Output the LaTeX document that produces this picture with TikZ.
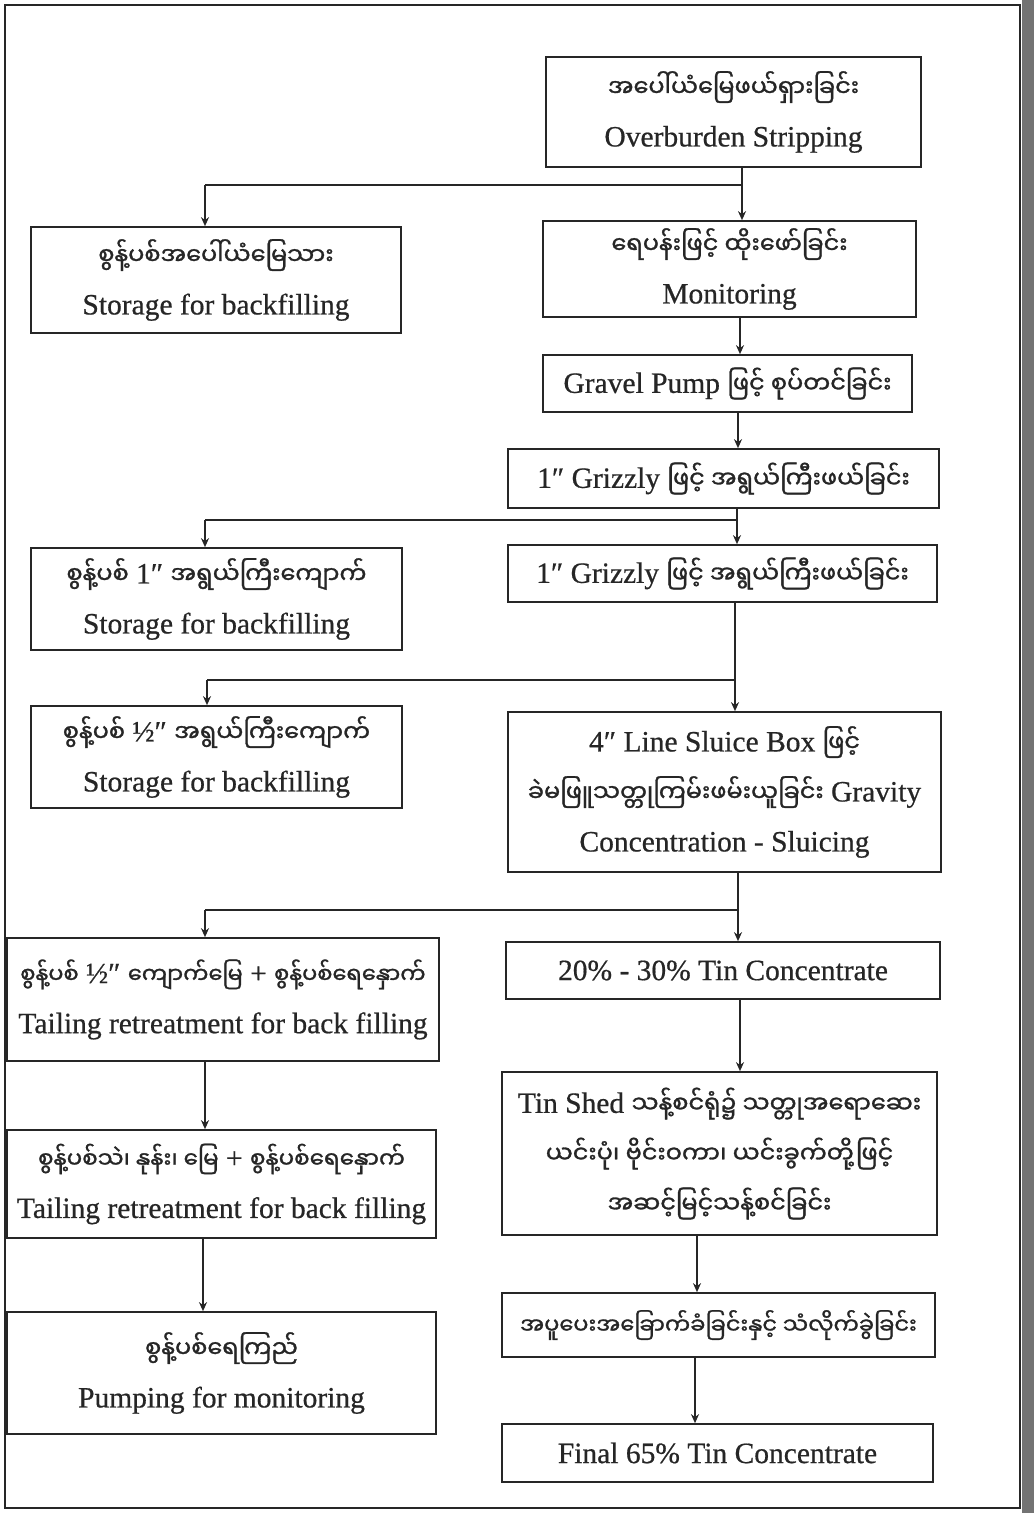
\documentclass[tikz,border=0pt]{standalone}
\usepackage{fontspec}
\setmainfont{Liberation Serif}[FakeBold=0.6]
\newfontfamily\myafont[Script=Myanmar,FakeBold=1.2]{Noto Sans Myanmar UI}
\usetikzlibrary{arrows.meta}
\newcommand\bur[1]{{\myafont\fontsize{24}{50}\selectfont #1}}
\newcommand\burs[2]{{\myafont\fontsize{#1}{50}\selectfont #2}}
\tikzset{
  box/.style={draw=black!85, line width=1.7pt, align=center, inner sep=0pt,
    font=\fontsize{29.5}{50}\selectfont, text=black!85},
  arr/.style={draw=black!85, line width=1.5pt, -{Stealth[length=9pt,width=8pt]}},
  ln/.style={draw=black!85, line width=1.5pt}
}
\begin{document}
\begin{tikzpicture}[x=1pt,y=-1pt]
\useasboundingbox (0,0) rectangle (1034,1513);
\fill[white] (0,0) rectangle (1034,1513);
\fill[black!55] (1022,0) rectangle (1034,1513);
\draw[black!85, line width=2pt] (5,5) rectangle (1020,1508);

\node[box, minimum width=375pt, minimum height=110pt] (ob) at (733.5,112)
  {\bur{အပေါ်ယံမြေဖယ်ရှားခြင်း}\\Overburden Stripping};
\node[box, minimum width=370pt, minimum height=106pt] (st1) at (216,280)
  {\bur{စွန့်ပစ်အပေါ်ယံမြေသား}\\Storage for backfilling};
\node[box, minimum width=373pt, minimum height=96pt] (mon) at (729.5,269)
  {\bur{ရေပန်းဖြင့် ထိုးဖော်ခြင်း}\\Monitoring};
\node[box, minimum width=369pt, minimum height=57pt] (gp) at (727.5,383.5)
  {Gravel Pump \bur{ဖြင့် စုပ်တင်ခြင်း}};
\node[box, minimum width=431pt, minimum height=59pt] (gz1) at (723.5,478.5)
  {1″ Grizzly \bur{ဖြင့် အရွယ်ကြီးဖယ်ခြင်း}};
\node[box, minimum width=371pt, minimum height=102pt] (st2) at (216.5,599)
  {\bur{စွန့်ပစ်} 1″ \bur{အရွယ်ကြီးကျောက်}\\Storage for backfilling};
\node[box, minimum width=429pt, minimum height=57pt] (gz2) at (722.5,573.5)
  {1″ Grizzly \bur{ဖြင့် အရွယ်ကြီးဖယ်ခြင်း}};
\node[box, minimum width=371pt, minimum height=102pt] (st3) at (216.5,757)
  {\bur{စွန့်ပစ်} ½″ \bur{အရွယ်ကြီးကျောက်}\\Storage for backfilling};
\node[box, minimum width=433pt, minimum height=160pt] (sl) at (724.5,792)
  {4″ Line Sluice Box \bur{ဖြင့်}\\\bur{ခဲမဖြူသတ္တုကြမ်းဖမ်းယူခြင်း} Gravity\\Concentration - Sluicing};
\node[box, minimum width=432pt, minimum height=123pt] (t1) at (223,999.5)
  {\burs{22.5}{စွန့်ပစ်} ½″ \burs{22.5}{ကျောက်မြေ} + \burs{22.5}{စွန့်ပစ်ရေနှောက်}\\Tailing retreatment for back filling};
\node[box, minimum width=434pt, minimum height=57pt] (c1) at (723,970.5)
  {20\% - 30\% Tin Concentrate};
\node[box, minimum width=429pt, minimum height=108pt] (t2) at (221.5,1184)
  {\burs{23}{စွန့်ပစ်သဲ၊ နုန်း၊ မြေ} + \burs{23}{စွန့်ပစ်ရေနှောက်}\\Tailing retreatment for back filling};
\node[box, minimum width=435pt, minimum height=163pt] (ts) at (719.5,1153.5)
  {Tin Shed \bur{သန့်စင်ရုံ၌ သတ္တုအရောဆေး}\\\bur{ယင်းပုံ၊ ဗိုင်းဝကာ၊ ယင်းခွက်တို့ဖြင့်}\\\bur{အဆင့်မြင့်သန့်စင်ခြင်း}};
\node[box, minimum width=429pt, minimum height=122pt] (pm) at (221.5,1373)
  {\bur{စွန့်ပစ်ရေကြည်}\\Pumping for monitoring};
\node[box, minimum width=433pt, minimum height=64pt] (ht) at (718.5,1325)
  {\burs{22.5}{အပူပေးအခြောက်ခံခြင်းနှင့် သံလိုက်ခွဲခြင်း}};
\node[box, minimum width=431pt, minimum height=58pt] (fn) at (717.5,1453)
  {Final 65\% Tin Concentrate};

% split 1
\coordinate (j1) at (742,185);
\coordinate (l1) at (205,185);
\draw[ln] (j1 |- ob.south) -- (j1) -- (l1);
\draw[arr] (l1) -- (l1 |- st1.north);
\draw[arr] (j1) -- (j1 |- mon.north);
% chain
\coordinate (k1) at (740,0);
\draw[arr] (k1 |- mon.south) -- (k1 |- gp.north);
\coordinate (k2) at (738,0);
\draw[arr] (k2 |- gp.south) -- (k2 |- gz1.north);
% split 2
\coordinate (j2) at (737,520);
\coordinate (l2) at (205,520);
\draw[ln] (j2 |- gz1.south) -- (j2) -- (l2);
\draw[arr] (l2) -- (l2 |- st2.north);
\draw[arr] (j2) -- (j2 |- gz2.north);
% split 3
\coordinate (j3) at (735,680);
\coordinate (l3) at (207,680);
\draw[ln] (j3 |- gz2.south) -- (j3) -- (l3);
\draw[arr] (l3) -- (l3 |- st3.north);
\draw[arr] (j3) -- (j3 |- sl.north);
% split 4
\coordinate (j4) at (738,910);
\coordinate (l4) at (205,910);
\draw[ln] (j4 |- sl.south) -- (j4) -- (l4);
\draw[arr] (l4) -- (l4 |- t1.north);
\draw[arr] (j4) -- (j4 |- c1.north);
% right chain
\coordinate (k3) at (740,0);
\draw[arr] (k3 |- c1.south) -- (k3 |- ts.north);
\coordinate (k4) at (697,0);
\draw[arr] (k4 |- ts.south) -- (k4 |- ht.north);
\coordinate (k5) at (695,0);
\draw[arr] (k5 |- ht.south) -- (k5 |- fn.north);
% left chain
\coordinate (k6) at (205,0);
\draw[arr] (k6 |- t1.south) -- (k6 |- t2.north);
\coordinate (k7) at (203,0);
\draw[arr] (k7 |- t2.south) -- (k7 |- pm.north);
\end{tikzpicture}
\end{document}
